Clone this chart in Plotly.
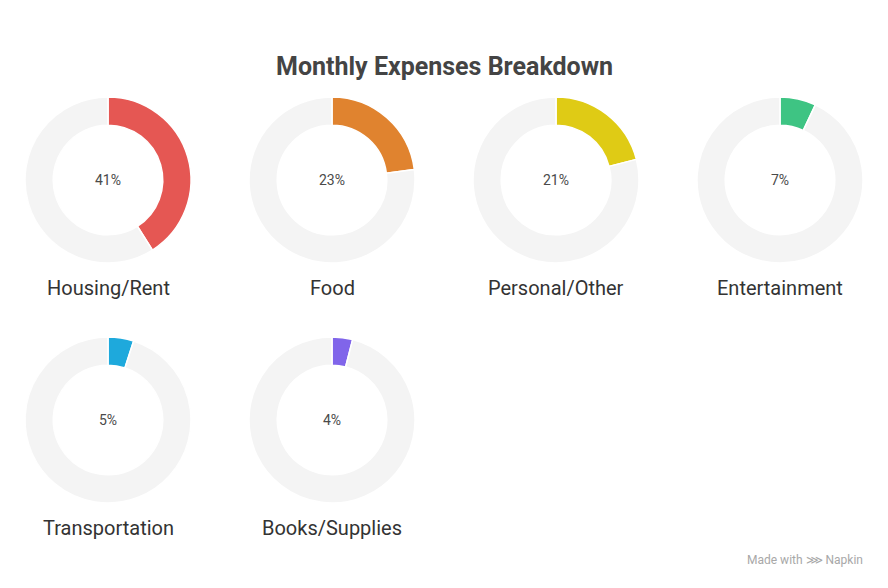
import plotly.graph_objects as go

categories = ["Housing/Rent", "Food", "Personal/Other", "Entertainment", "Transportation", "Books/Supplies"]
percentages = [41, 23, 21, 7, 5, 4]
colors = ["#E55753", "#E0832F", "#DFCB15", "#3EC483", "#1EA9DC", "#8065EA"]
rest_color = "#F4F4F4"

W, H = 888, 588
col_x = [108, 332, 556, 780]
row_y = [180, 420]
R = 83

fig = go.Figure()
annotations = []
for i, (cat, pct, col) in enumerate(zip(categories, percentages, colors)):
    cx = col_x[i % 4]
    cy = row_y[i // 4]
    yb = H - cy
    fig.add_trace(go.Pie(
        values=[pct, 100 - pct],
        labels=[cat, "Other"],
        hole=0.66,
        sort=False,
        direction="clockwise",
        rotation=0,
        marker=dict(colors=[col, rest_color], line=dict(color="white", width=1.5)),
        textinfo="none",
        hoverinfo="skip",
        showlegend=False,
        domain=dict(x=[(cx - R) / W, (cx + R) / W], y=[(yb - R) / H, (yb + R) / H]),
    ))
    annotations.append(dict(x=cx / W, y=yb / H, xref="paper", yref="paper",
                            xanchor="center", yanchor="middle",
                            text=f"{pct}%", showarrow=False,
                            font=dict(family="Roboto", size=14, color="#4A4A4A")))
    annotations.append(dict(x=cx / W, y=(H - (cy + 108)) / H, xref="paper", yref="paper",
                            xanchor="center", yanchor="middle",
                            text=cat, showarrow=False,
                            font=dict(family="Roboto", size=20, color="#333333")))

annotations.append(dict(x=444 / W, y=(H - 66) / H, xref="paper", yref="paper",
                        xanchor="center", yanchor="middle",
                        text="<b>Monthly Expenses Breakdown</b>", showarrow=False,
                        font=dict(family="Roboto", size=25, color="#444444")))
annotations.append(dict(x=865 / W, y=(H - 560) / H, xref="paper", yref="paper",
                        xanchor="right", yanchor="middle",
                        text="Made with ⋙ Napkin", showarrow=False,
                        font=dict(family="Roboto", size=12, color="#A8A8A8")))

fig.update_layout(
    width=W, height=H,
    margin=dict(l=0, r=0, t=0, b=0),
    paper_bgcolor="white", plot_bgcolor="white",
    annotations=annotations,
)
fig.write_html("out.html", config={"displayModeBar": False})
